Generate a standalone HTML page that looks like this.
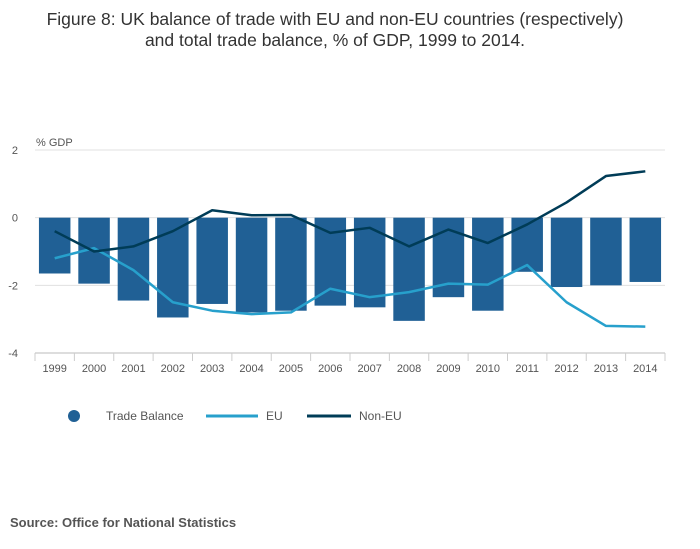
<!DOCTYPE html>
<html><head><meta charset="utf-8"><style>
body{margin:0;background:#fff;font-family:"Liberation Sans",sans-serif;}
#wrap{position:relative;width:700px;height:549px;overflow:hidden;}
</style></head><body>
<div id="wrap">
<svg id="chart" width="700" height="549">
<text x="335" y="25" text-anchor="middle" font-size="17.5" fill="#333">Figure 8: UK balance of trade with EU and non-EU countries (respectively)</text>
<text x="335" y="46" text-anchor="middle" font-size="17.5" fill="#333">and total trade balance, % of GDP, 1999 to 2014.</text>
<text x="36" y="146" font-size="11" fill="#555">% GDP</text>
<text x="10" y="527" font-size="13" font-weight="bold" fill="#555">Source: Office for National Statistics</text>
<g id="grid"></g><g id="bars"></g><g id="lines"></g><g id="axis"></g>
<g>
<circle cx="74" cy="416" r="6" fill="#206095"/>
<text x="106" y="420" font-size="12" fill="#555">Trade Balance</text>
<line x1="206" y1="416" x2="258" y2="416" stroke="#27a0cc" stroke-width="3"/>
<text x="266" y="420" font-size="12" fill="#555">EU</text>
<line x1="307" y1="416" x2="351" y2="416" stroke="#003c57" stroke-width="3"/>
<text x="359" y="420" font-size="12" fill="#555">Non-EU</text>
</g>
</svg>
</div>
<script>
const categories=["1999","2000","2001","2002","2003","2004","2005","2006","2007","2008","2009","2010","2011","2012","2013","2014"];
const tradeBalance=[-1.65,-1.95,-2.45,-2.95,-2.55,-2.8,-2.75,-2.6,-2.65,-3.05,-2.35,-2.75,-1.6,-2.05,-2.0,-1.9];
const euValues=[-1.2,-0.9,-1.55,-2.5,-2.75,-2.85,-2.8,-2.1,-2.35,-2.2,-1.95,-1.98,-1.4,-2.5,-3.2,-3.22];
const nonEuValues=[-0.4,-1.0,-0.85,-0.4,0.22,0.07,0.08,-0.45,-0.3,-0.85,-0.35,-0.75,-0.2,0.45,1.23,1.37];
const yTicks=[2,0,-2,-4];
const NS="http://www.w3.org/2000/svg";
const X0=35,X1=665,Y0=150,Y1=353,YMAX=2,YMIN=-4;
const band=(X1-X0)/categories.length;
const xc=i=>X0+band*(i+0.5);
const y=v=>Y0+(YMAX-v)/(YMAX-YMIN)*(Y1-Y0);
function mk(tag,attrs,parent){const e=document.createElementNS(NS,tag);for(const k in attrs)e.setAttribute(k,attrs[k]);document.getElementById(parent).appendChild(e);return e;}
yTicks.forEach(t=>{
 const l=mk('line',{x1:X0,x2:X1,y1:y(t),y2:y(t),stroke:'#e0e0e0','stroke-width':1},'grid');
 
 
 const tx=mk('text',{x:18,y:y(t)+4,'font-size':11,fill:'#555','text-anchor':'end'},'grid');
 tx.textContent=t;
 
 
});
tradeBalance.forEach((v,i)=>{
 const w=band*0.8;
 const r=mk('rect',{x:xc(i)-w/2,y:Math.min(y(0),y(v)),width:w,height:Math.abs(y(v)-y(0)),fill:'#206095'},'bars');
 
 
});
function line(vals,color,name){
 const p=mk('polyline',{points:vals.map((v,i)=>xc(i)+','+y(v)).join(' '),fill:'none',stroke:color,'stroke-width':2.5,'stroke-linejoin':'round'},'lines');
 
 
}
line(euValues,'#27a0cc','eu-line');
line(nonEuValues,'#003c57','non-eu-line');
const ax=mk('line',{x1:X0,x2:X1,y1:Y1,y2:Y1,stroke:'#bbb'},'axis');


for(let i=0;i<=categories.length;i++){
 const tk=mk('line',{x1:X0+band*i,x2:X0+band*i,y1:Y1,y2:Y1+8,stroke:'#ccc'},'axis');
 
 
}
categories.forEach((c,i)=>{
 const t=mk('text',{x:xc(i),y:Y1+19,'font-size':11,fill:'#555','text-anchor':'middle'},'axis');
 t.textContent=c;
 
 
});
</script>
</body></html>
